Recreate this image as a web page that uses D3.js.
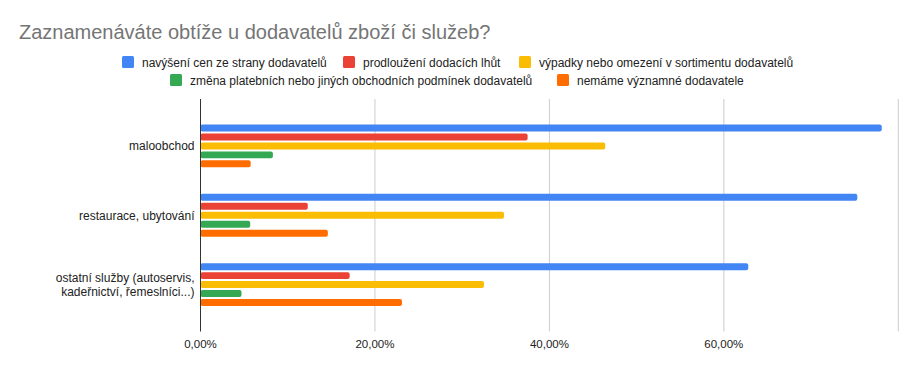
<!DOCTYPE html>
<html>
<head>
<meta charset="utf-8">
<script src="https://cdn.jsdelivr.net/npm/d3@7"></script>
<style>
  body { margin: 0; background: #fff; }
  svg { font-family: "Liberation Sans", Arial, sans-serif; }
</style>
</head>
<body>
<svg id="chart" width="917" height="371"></svg>
<script>
// data
var categories = [
  ["maloobchod"],
  ["restaurace, ubytování"],
  ["ostatní služby (autoservis,", "kadeřnictví, řemeslníci...)"]
];
var seriesNames = [
  "navýšení cen ze strany dodavatelů",
  "prodloužení dodacích lhůt",
  "výpadky nebo omezení v sortimentu dodavatelů",
  "změna platebních nebo jiných obchodních podmínek dodavatelů",
  "nemáme významné dodavatele"
];
var navyseni = [0.781, 0.753, 0.628];
var prodlouzeni = [0.375, 0.123, 0.171];
var vypadky = [0.464, 0.348, 0.325];
var zmena = [0.083, 0.057, 0.047];
var nemame = [0.0575, 0.146, 0.231];
var xTicks = [0, 0.2, 0.4, 0.6, 0.8];
var colors = ["#4285f4", "#ea4335", "#fbbc04", "#34a853", "#ff6d01"];

var series = [navyseni, prodlouzeni, vypadky, zmena, nemame];

var svg = d3.select("#chart");
var plot = {left: 200.5, right: 898.3, top: 99, bottom: 331.5};

svg.append("text")
  .attr("x", 19).attr("y", 39)
  .attr("font-size", 20)
  .attr("fill", "#757575")
  .text("Zaznamenáváte obtíže u dodavatelů zboží či služeb?");

// legend, two rows laid out like the original
var legendPos = [
  {x: 122, y: 62}, {x: 343, y: 62}, {x: 519, y: 62},
  {x: 170, y: 80}, {x: 557, y: 80}
];
var legend = svg.append("g").selectAll("g")
  .data(seriesNames)
  .enter().append("g")
  .attr("transform", (d, i) => `translate(${legendPos[i].x}, ${legendPos[i].y})`);
legend.append("rect")
  .attr("x", 0).attr("y", -6).attr("width", 12).attr("height", 12)
  .attr("rx", 1.5)
  .attr("fill", (d, i) => colors[i]);
legend.append("text")
  .attr("x", 20).attr("y", 4.5)
  .attr("font-size", 12)
  .attr("fill", "#222")
  .text(d => d);

var x = d3.scaleLinear().domain([0, 0.8]).range([plot.left, plot.right]);
var y0 = d3.scaleBand()
  .domain(d3.range(categories.length))
  .range([plot.top, plot.bottom])
  .paddingInner(0.353).paddingOuter(0.353);
var y1 = d3.scaleBand()
  .domain(d3.range(series.length))
  .range([0, y0.bandwidth()])
  .paddingInner(0.222).paddingOuter(0.111);

// gridlines
svg.append("g").selectAll("line")
  .data(xTicks.slice(1))
  .enter().append("line")
  .attr("x1", d => x(d)).attr("x2", d => x(d))
  .attr("y1", plot.top).attr("y2", plot.bottom)
  .attr("stroke", "#cccccc").attr("stroke-width", 1);

// bars
var groups = svg.append("g").selectAll("g")
  .data(categories)
  .enter().append("g")
  .attr("transform", (d, i) => `translate(0, ${y0(i)})`);
groups.selectAll("rect")
  .data((d, ci) => series.map((s, si) => ({si: si, v: s[ci]})))
  .enter().append("rect")
  .attr("x", x(0))
  .attr("y", d => y1(d.si))
  .attr("width", d => x(d.v) - x(0))
  .attr("height", y1.bandwidth())
  .attr("rx", 2)
  .attr("fill", d => colors[d.si]);

// zero axis line
svg.append("line")
  .attr("x1", x(0)).attr("x2", x(0))
  .attr("y1", plot.top).attr("y2", plot.bottom)
  .attr("stroke", "#333").attr("stroke-width", 1);

// category labels
var catLabels = svg.append("g").selectAll("text")
  .data(categories)
  .enter().append("text")
  .attr("text-anchor", "end")
  .attr("font-size", 12)
  .attr("fill", "#222")
  .attr("x", 194.5)
  .attr("y", (d, i) => y0(i) + y0.bandwidth() / 2 - (d.length - 1) * 7.25 + 4.5);
catLabels.selectAll("tspan")
  .data(d => d)
  .enter().append("tspan")
  .attr("x", 194.5)
  .attr("dy", (d, i) => i === 0 ? 0 : 14.5)
  .text(d => d);

// x tick labels (last one is cut off in the original)
var fmt = v => d3.format(".2f")(v * 100).replace(".", ",") + "%";
svg.append("g").selectAll("text")
  .data(xTicks.slice(0, 4))
  .enter().append("text")
  .attr("x", d => x(d))
  .attr("y", 348)
  .attr("text-anchor", "middle")
  .attr("font-size", 11.5)
  .attr("fill", "#222")
  .text(fmt);
</script>
</body>
</html>
